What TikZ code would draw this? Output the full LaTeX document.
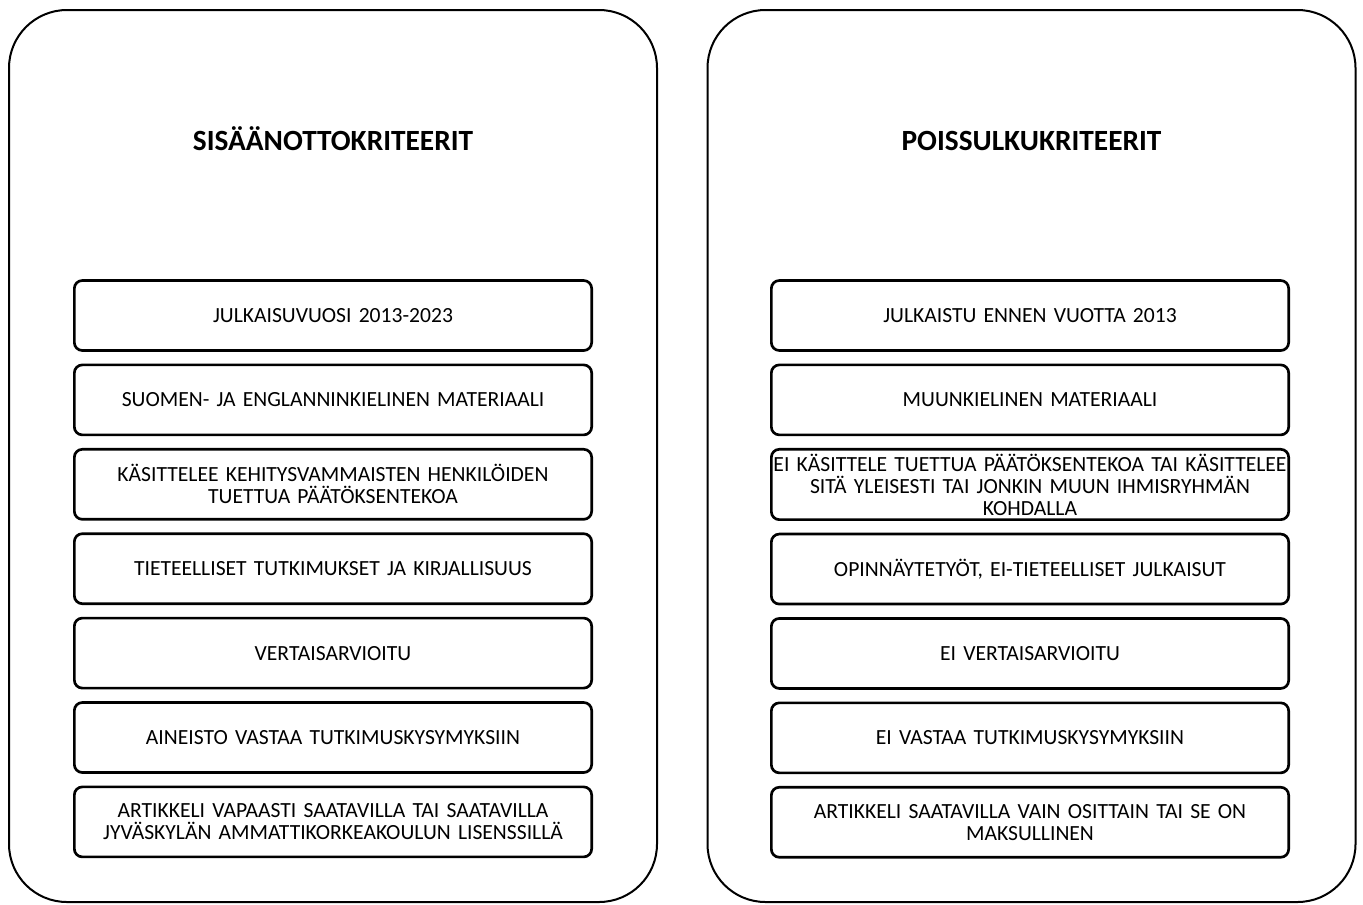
\documentclass[tikz,border=0pt]{standalone}
\usepackage{fontspec}
\setmainfont{Carlito}
\usepackage{tikz}
\usetikzlibrary{positioning}

\tikzset{
	panel/.style={draw, line width=1.5pt, rounded corners=43.5pt,
		minimum width=486pt, minimum height=669pt, inner sep=0pt},
	crit/.style={draw, line width=2pt, rounded corners=6pt,
		minimum width=388pt, minimum height=52.5pt, inner xsep=0.5pt,
		text width=387pt, align=center, font=\fontsize{16.2}{16.5}\selectfont},
	crittitle/.style={font=\fontsize{22}{26}\selectfont\bfseries, anchor=base}
}

\begin{document}
\begin{tikzpicture}[x=0.75pt, y=-0.75pt, node distance=8.8pt]
		\useasboundingbox (0,0) rectangle (1363,904);

		% panels
		\node[panel] (inpanel) at (333,456) {};
		\node[panel] (outpanel) at (1031.5,456) {};

		% titles
		\node[crittitle] (intitle) at (333,150) {SISÄÄNOTTOKRITEERIT};
		\node[crittitle] (outtitle) at (1031.5,150) {POISSULKUKRITEERIT};

		% inclusion
		\node[crit] (in1) at (333,315.5) {JULKAISUVUOSI 2013-2023};
		\node[crit, below=of in1] (in2) {SUOMEN- JA ENGLANNINKIELINEN MATERIAALI};
		\node[crit, below=of in2] (in3) {KÄSITTELEE KEHITYSVAMMAISTEN HENKILÖIDEN\\TUETTUA PÄÄTÖKSENTEKOA};
		\node[crit, below=of in3] (in4) {TIETEELLISET TUTKIMUKSET JA KIRJALLISUUS};
		\node[crit, below=of in4] (in5) {VERTAISARVIOITU};
		\node[crit, below=of in5] (in6) {AINEISTO VASTAA TUTKIMUSKYSYMYKSIIN};
		\node[crit, below=of in6] (in7) {ARTIKKELI VAPAASTI SAATAVILLA TAI SAATAVILLA\\JYVÄSKYLÄN AMMATTIKORKEAKOULUN LISENSSILLÄ};

		% exclusion
		\node[crit] (out1) at (1030,315.5) {JULKAISTU ENNEN VUOTTA 2013};
		\node[crit, below=of out1] (out2) {MUUNKIELINEN MATERIAALI};
		\node[crit, below=of out2] (out3) {EI KÄSITTELE TUETTUA PÄÄTÖKSENTEKOA TAI KÄSITTELEE\\SITÄ YLEISESTI TAI JONKIN MUUN IHMISRYHMÄN\\KOHDALLA};
		\node[crit, below=of out3] (out4) {OPINNÄYTETYÖT, EI-TIETEELLISET JULKAISUT};
		\node[crit, below=of out4] (out5) {EI VERTAISARVIOITU};
		\node[crit, below=of out5] (out6) {EI VASTAA TUTKIMUSKYSYMYKSIIN};
		\node[crit, below=of out6] (out7) {ARTIKKELI SAATAVILLA VAIN OSITTAIN TAI SE ON\\MAKSULLINEN};
	\end{tikzpicture}
\end{document}
